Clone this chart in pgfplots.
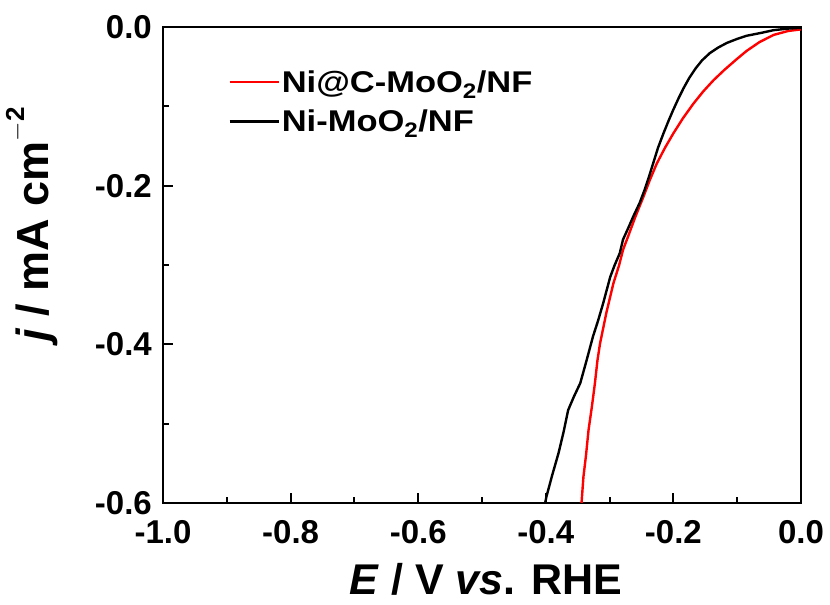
\documentclass[border=0pt]{standalone}
\usepackage{fontspec}
\setmainfont{Liberation Sans}
\newfontfamily\legfont[FakeStretch=1.15]{Liberation Sans}
\usepackage{pgfplots}
\pgfplotsset{compat=1.18}

\begin{document}
\begin{tikzpicture}
\begin{axis}[
  name=ax,
  width=638pt, height=476pt, scale only axis,
  xmin=-1, xmax=0, ymin=-0.6, ymax=0,
  xtick={-1,-0.8,-0.6,-0.4,-0.2,0}, ytick={-0.6,-0.4,-0.2,0},
  minor x tick num=1, minor y tick num=1,
  xtick pos=bottom, ytick pos=left, tick align=inside,
  major tick length=10pt, minor tick length=6pt,
  tick style={line width=2pt, black},
  axis line style={line width=2.6pt},
  /pgf/number format/assume math mode=true,
  /pgf/number format/.cd, fixed, fixed zerofill, precision=1, /pgfplots/.cd,
  tick label style={font=\fontsize{33}{35}\selectfont\bfseries, inner sep=0pt},
  xticklabel style={yshift=-17pt},
  yticklabel style={xshift=-11pt},
  xlabel={\textbf{\textit{E} / V \textit{vs}. RHE}},
  ylabel={\textbf{\textit{j} / mA cm\raisebox{0.55em}{\fontsize{26}{28}\selectfont$\mathbf{-}$2}}},
  every axis x label/.style={at={(rel axis cs:0.5,0)}, xshift=4pt, yshift=-76pt, anchor=center,
    inner sep=0pt, font=\fontsize{43}{46}\selectfont},
  every axis y label/.style={at={(rel axis cs:0,0.585)}, xshift=-131pt, rotate=90, anchor=center,
    inner sep=0pt, font=\fontsize{45}{48}\selectfont},
  legend style={draw=none, fill=none, inner sep=0pt, at={(0.102,0.843)}, anchor=west,
    font=\fontsize{30}{32}\selectfont\legfont\bfseries, row sep=12pt,
    nodes={inner sep=2pt}},
  legend cell align=left,
  legend image code/.code={\draw[#1, line width=2.5pt] (0pt,0pt) -- (49pt,0pt);},
]
\addplot[red, line width=2.4pt] coordinates {
(-0.344,-0.600) (-0.341,-0.567) (-0.337,-0.540) (-0.333,-0.508) (-0.328,-0.480)
(-0.323,-0.449) (-0.319,-0.420) (-0.315,-0.399) (-0.305,-0.360) (-0.294,-0.323)
(-0.285,-0.300) (-0.279,-0.281) (-0.271,-0.264) (-0.260,-0.240) (-0.247,-0.214)
(-0.237,-0.193) (-0.226,-0.172) (-0.213,-0.152) (-0.200,-0.134) (-0.185,-0.115)
(-0.169,-0.097) (-0.153,-0.081) (-0.137,-0.067) (-0.120,-0.054) (-0.100,-0.040)
(-0.085,-0.030) (-0.065,-0.019) (-0.043,-0.010) (-0.020,-0.005) (0,-0.003)
};
\addlegendentry{Ni@C-MoO\textsubscript{2}/NF}
\addplot[black, line width=2.4pt] coordinates {
(-0.401,-0.600) (-0.399,-0.592) (-0.390,-0.565) (-0.380,-0.537) (-0.372,-0.510)
(-0.365,-0.483) (-0.356,-0.466) (-0.346,-0.449) (-0.336,-0.420) (-0.326,-0.390)
(-0.318,-0.370) (-0.310,-0.348) (-0.299,-0.315) (-0.292,-0.300) (-0.284,-0.285)
(-0.279,-0.268) (-0.270,-0.252) (-0.263,-0.239) (-0.253,-0.222) (-0.245,-0.205)
(-0.238,-0.188) (-0.231,-0.170) (-0.224,-0.152) (-0.216,-0.135) (-0.208,-0.119)
(-0.200,-0.104) (-0.192,-0.090) (-0.184,-0.077) (-0.175,-0.064) (-0.165,-0.052)
(-0.155,-0.042) (-0.143,-0.033) (-0.130,-0.026) (-0.116,-0.020) (-0.100,-0.015)
(-0.085,-0.011) (-0.060,-0.007) (-0.043,-0.004) (-0.020,-0.002) (0,-0.001)
};
\addlegendentry{Ni-MoO\textsubscript{2}/NF}
\end{axis}
\pgfresetboundingbox
\useasboundingbox ([xshift=-163pt, yshift=-102pt]ax.south west) rectangle ([xshift=29pt, yshift=27pt]ax.north east);
\end{tikzpicture}
\end{document}
